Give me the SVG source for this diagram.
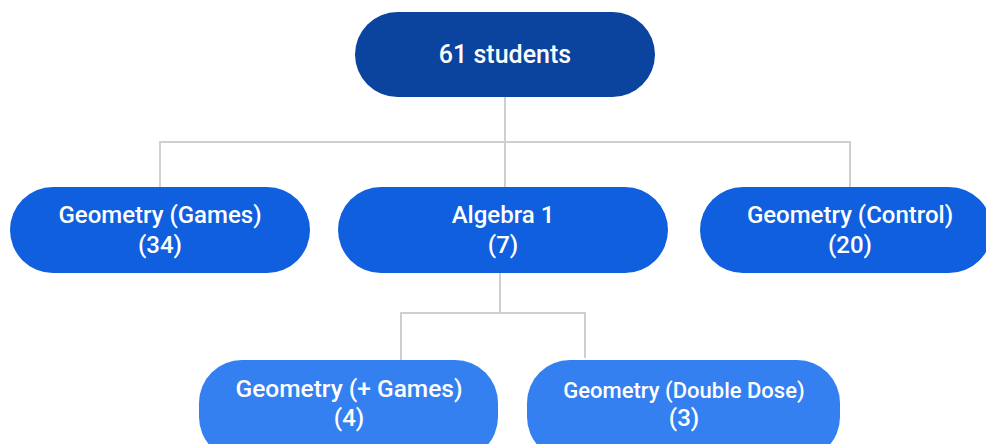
<svg xmlns="http://www.w3.org/2000/svg" width="986" height="444" viewBox="0 0 986 444">
<style>
.t{font-family:Roboto,"Liberation Sans",sans-serif;font-size:24px;font-weight:500;fill:#ffffff;text-anchor:middle}
.c{fill:none;stroke:#cfcfcf;stroke-width:2}
.n0{fill:#0b449f}
.n1{fill:#0f5fdf}
.n2{fill:#3580f0}
</style>
<rect width="986" height="444" fill="#ffffff"/>
<g id="connectors">
<path class="c" d="M505 97V187M160 187V142H850V187"/>
<path class="c" d="M500 272V313M401 362V313H585V358"/>
</g>
<g id="root">
<rect class="n0" x="355" y="12" width="300" height="85" rx="42.5"/>
<text class="t" x="505" y="63" style="font-size:25px">61 students</text>
</g>
<g id="geometry-games">
<rect class="n1" x="10" y="187" width="300" height="86" rx="43"/>
<text class="t" x="160" y="223">Geometry (Games)</text>
<text class="t" x="160" y="253">(34)</text>
</g>
<g id="algebra1">
<rect class="n1" x="338" y="187" width="330" height="86" rx="43"/>
<text class="t" x="503" y="223">Algebra 1</text>
<text class="t" x="503" y="253">(7)</text>
</g>
<g id="geometry-control">
<rect class="n1" x="700" y="187" width="292" height="86" rx="43"/>
<text class="t" x="850" y="223">Geometry (Control)</text>
<text class="t" x="850" y="253">(20)</text>
</g>
<g id="geometry-plus-games">
<rect class="n2" x="199" y="360" width="299" height="100" rx="43"/>
<text class="t" x="349" y="397" style="font-size:24.5px">Geometry (+ Games)</text>
<text class="t" x="349" y="426">(4)</text>
</g>
<g id="geometry-double-dose">
<rect class="n2" x="527" y="360" width="313" height="100" rx="43"/>
<text class="t" x="684" y="398" style="font-size:22px">Geometry (Double Dose)</text>
<text class="t" x="684" y="426">(3)</text>
</g>
</svg>
